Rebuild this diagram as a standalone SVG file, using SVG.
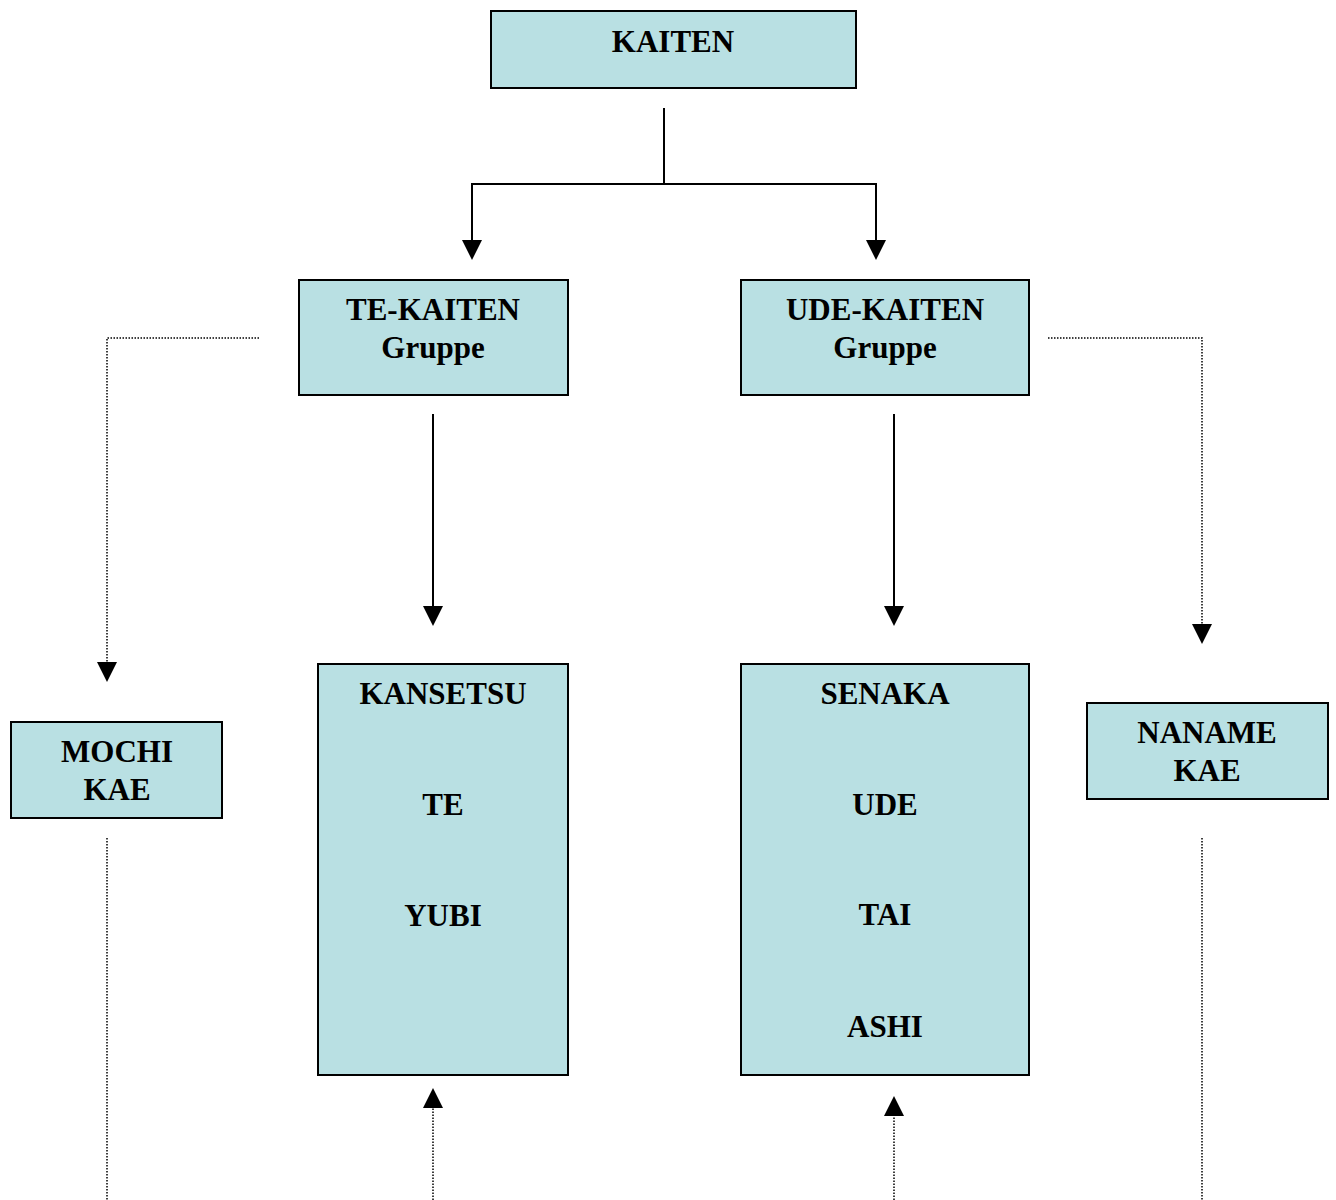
<svg xmlns="http://www.w3.org/2000/svg" width="1336" height="1200" viewBox="0 0 1336 1200">
<style>
.box{fill:#b9e0e3;stroke:#000;stroke-width:2}
.t{font-family:"Liberation Serif","Times New Roman",serif;font-weight:bold;font-size:31px;fill:#000;text-anchor:middle}
.solid{fill:none;stroke:#000;stroke-width:2}
.dot{fill:none;stroke:#000;stroke-width:1.5;stroke-dasharray:1.5 1.5}
.ah{fill:#000}
</style>
<rect width="1336" height="1200" fill="#fff"/>
<g id="connectors">
<polyline class="solid" points="664,108 664,184 472,184 472,244"/>
<polyline class="solid" points="664,184 876,184 876,244"/>
<polygon class="ah" points="462,240 482,240 472,260"/>
<polygon class="ah" points="866,240 886,240 876,260"/>
<line class="solid" x1="433" y1="414" x2="433" y2="610"/>
<polygon class="ah" points="423,606 443,606 433,626"/>
<line class="solid" x1="894" y1="414" x2="894" y2="610"/>
<polygon class="ah" points="884,606 904,606 894,626"/>
<polyline class="dot" points="259,338 107,338 107,666"/>
<polygon class="ah" points="97,662 117,662 107,682"/>
<polyline class="dot" points="1048,338 1202,338 1202,628"/>
<polygon class="ah" points="1192,624 1212,624 1202,644"/>
<line class="dot" x1="107" y1="838" x2="107" y2="1200"/>
<line class="dot" x1="1202" y1="838" x2="1202" y2="1200"/>
<line class="dot" x1="433" y1="1200" x2="433" y2="1104"/>
<polygon class="ah" points="423,1108 443,1108 433,1088"/>
<line class="dot" x1="894" y1="1200" x2="894" y2="1112"/>
<polygon class="ah" points="884,1116 904,1116 894,1096"/>
</g>
<g id="kaiten">
<rect class="box" x="491" y="11" width="365" height="77"/>
<text class="t" x="673" y="52">KAITEN</text>
</g>
<g id="te-kaiten">
<rect class="box" x="299" y="280" width="269" height="115"/>
<text class="t" x="433" y="320">TE-KAITEN</text>
<text class="t" x="433" y="358">Gruppe</text>
</g>
<g id="ude-kaiten">
<rect class="box" x="741" y="280" width="288" height="115"/>
<text class="t" x="885" y="320">UDE-KAITEN</text>
<text class="t" x="885" y="358">Gruppe</text>
</g>
<g id="kansetsu">
<rect class="box" x="318" y="664" width="250" height="411"/>
<text class="t" x="443" y="704">KANSETSU</text>
<text class="t" x="443" y="815">TE</text>
<text class="t" x="443" y="926">YUBI</text>
</g>
<g id="senaka">
<rect class="box" x="741" y="664" width="288" height="411"/>
<text class="t" x="885" y="704">SENAKA</text>
<text class="t" x="885" y="815">UDE</text>
<text class="t" x="885" y="925">TAI</text>
<text class="t" x="885" y="1037">ASHI</text>
</g>
<g id="mochi-kae">
<rect class="box" x="11" y="722" width="211" height="96"/>
<text class="t" x="117" y="762">MOCHI</text>
<text class="t" x="117" y="800">KAE</text>
</g>
<g id="naname-kae">
<rect class="box" x="1087" y="703" width="241" height="96"/>
<text class="t" x="1207" y="743">NANAME</text>
<text class="t" x="1207" y="781">KAE</text>
</g>
</svg>
